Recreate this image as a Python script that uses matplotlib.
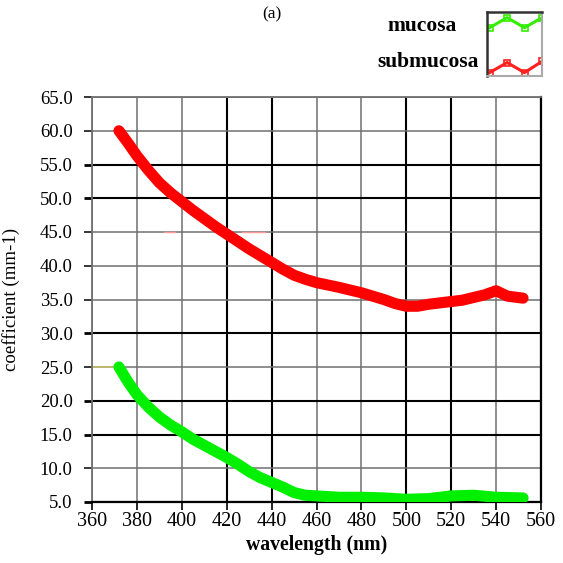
import matplotlib
matplotlib.use("Agg")
import matplotlib.pyplot as plt

plt.rcParams['font.family'] = ['Liberation Serif', 'DejaVu Serif']

# Data
submucosa_wl = [372, 376, 380, 385, 390, 395, 400, 405, 410, 415, 420, 425, 430, 435, 440, 445, 450, 455,
                460, 470, 480, 490, 495, 500, 505, 510, 515, 520, 525, 530, 535, 540, 545, 552]
submucosa = [60.0, 58.2, 56.3, 54.2, 52.3, 50.8, 49.5, 48.2, 47.0, 45.8, 44.7, 43.6, 42.5, 41.5, 40.5, 39.5,
             38.6, 38.0, 37.5, 36.8, 36.0, 35.0, 34.4, 34.0, 34.0, 34.3, 34.5, 34.7, 34.9, 35.3, 35.7, 36.3,
             35.5, 35.2]
mucosa_wl = [372, 376, 380, 385, 390, 395, 400, 405, 410, 415, 420, 425, 430, 435, 440, 445, 450, 455,
             460, 470, 480, 490, 500, 510, 520, 530, 540, 552]
mucosa = [25.0, 22.8, 20.9, 19.1, 17.6, 16.4, 15.4, 14.3, 13.4, 12.5, 11.6, 10.6, 9.5, 8.6, 7.9, 7.2, 6.4,
          6.0, 5.9, 5.7, 5.7, 5.6, 5.4, 5.5, 5.9, 6.0, 5.7, 5.6]

x_ticks = [360, 380, 400, 420, 440, 460, 480, 500, 520, 540, 560]
y_ticks = [5.0, 10.0, 15.0, 20.0, 25.0, 30.0, 35.0, 40.0, 45.0, 50.0, 55.0, 60.0, 65.0]
x_dark = [420, 440, 500, 520, 560]
y_dark = [5.0, 15.0, 20.0, 30.0, 50.0, 55.0]

legend_x = [0, 1, 2, 3]
legend_mucosa = [0.55, 1.0, 0.55, 1.0]
legend_submucosa = [0.55, 1.0, 0.55, 1.05]

W = 563
fig = plt.figure(figsize=(5.63, 5.63), dpi=100)
ax = fig.add_axes([92 / W, 1 - 502 / W, 449 / W, 405 / W])
ax.set_xlim(360, 560)
ax.set_ylim(5, 65)

for xv in x_ticks:
    dark = xv in x_dark
    ax.axvline(xv, color='black' if dark else '#707070', lw=1.5 if dark else 1.1, zorder=1)
for yv in y_ticks:
    dark = yv in y_dark
    ax.axhline(yv, color='black' if dark else '#707070', lw=1.5 if dark else 1.1, zorder=1)

# small artifacts
ax.plot([360, 372], [25, 25], color='#c8c070', lw=1.2, zorder=2)
ax.plot([392, 397], [45, 45], color='#ff9999', lw=1.0, zorder=2)
ax.plot([427, 437], [45, 45], color='#ff9999', lw=1.0, zorder=2)

ax.plot(submucosa_wl, submucosa, color='#ff0000', lw=8, solid_capstyle='round',
        solid_joinstyle='round', zorder=3)
ax.plot(mucosa_wl, mucosa, color='#00f000', lw=8, solid_capstyle='round',
        solid_joinstyle='round', zorder=3)

for s in ['top', 'left']:
    ax.spines[s].set_color('#707070')
    ax.spines[s].set_linewidth(1.3)
for s in ['bottom', 'right']:
    ax.spines[s].set_color('black')
    ax.spines[s].set_linewidth(1.6)

ax.set_xticks(x_ticks)
ax.set_yticks(y_ticks)
ax.set_yticklabels([f"{v:.1f}" for v in y_ticks])
ax.tick_params(axis='both', direction='out', length=6, width=1.2, colors='black')
ax.tick_params(axis='y', pad=8, labelsize=13.5)
ax.tick_params(axis='x', pad=1, labelsize=14.5)
for t, v in zip(ax.yaxis.get_major_ticks(), y_ticks):
    t.tick1line.set_markeredgewidth(2.0 if v in y_dark else 1.1)
for t, v in zip(ax.xaxis.get_major_ticks(), x_ticks):
    t.tick1line.set_markeredgewidth(1.2)

ax.set_xlabel('wavelength (nm)', fontsize=14.2, fontweight='bold', labelpad=3)
ax.set_ylabel('coefficient (mm-1)', fontsize=13.6, labelpad=4)
ax.yaxis.set_label_coords(-(92 - 20) / 449, 0.5)

fig.text(272 / W, 1 - 14 / W, '(a)', ha='center', va='center', fontsize=12.5)
fig.text(422 / W, 1 - 26 / W, 'mucosa', ha='center', va='center', fontsize=15.5, fontweight='bold')
fig.text(479 / W, 1 - 62 / W, 'submucosa', ha='right', va='center', fontsize=15.5, fontweight='bold')

lax = fig.add_axes([487 / W, 1 - 76 / W, 55 / W, 64 / W])
lax.set_xlim(-0.15, 3.0)
lax.set_ylim(-1.6, 1.25)
lax.set_xticks([])
lax.set_yticks([])
lax.plot(legend_x, legend_mucosa, color='#33ee00', lw=2.2, marker='s', ms=5,
         mfc='none', mec='#33ee00', mew=1.2, clip_on=True)
lax.plot(legend_x, [v - 2.0 for v in legend_submucosa], color='#ff2020', lw=2.2, marker='s', ms=5,
         mfc='none', mec='#ff2020', mew=1.2, clip_on=True)
for s in ['top', 'left']:
    lax.spines[s].set_color('#333333')
    lax.spines[s].set_linewidth(1.8)
for s in ['bottom', 'right']:
    lax.spines[s].set_color('#aaaaaa')
    lax.spines[s].set_linewidth(1.5)

fig.savefig('out.png', dpi=100)
